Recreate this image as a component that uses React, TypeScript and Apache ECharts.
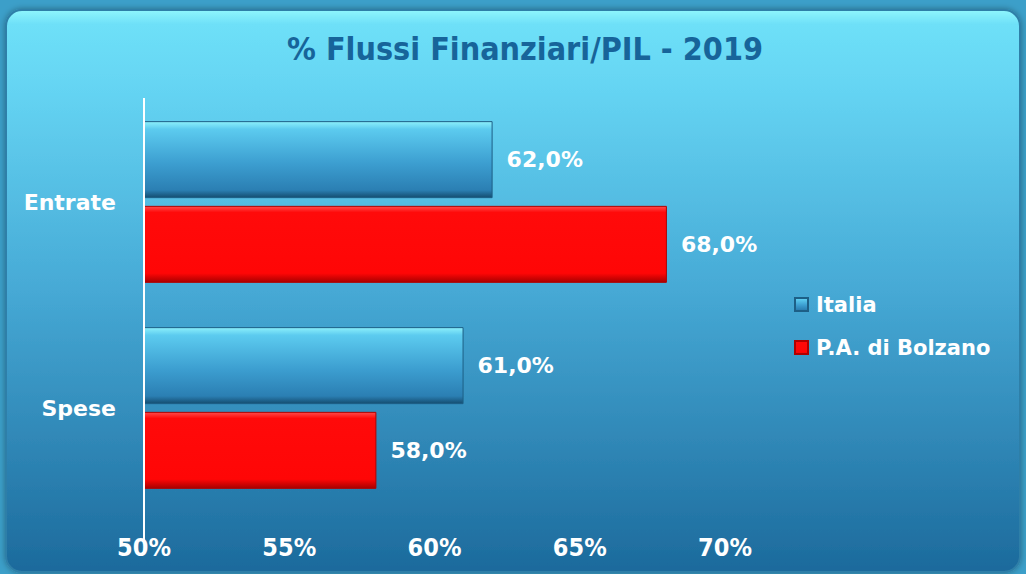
import React, { useEffect, useRef } from "react";
import * as echarts from "echarts";

const categories = ["Entrate", "Spese"];
const seriesNames = ["Italia", "P.A. di Bolzano"];
const italiaValues = [62.0, 61.0];
const bolzanoValues = [68.0, 58.0];
const titleText = "% Flussi Finanziari/PIL - 2019";
const axisMin = 50;
const axisMax = 70;
const axisInterval = 5;

const fmtPct = (v: number) => v.toFixed(1).replace(".", ",") + "%";
const wideFont = "'DejaVu Sans', 'Open Sans', sans-serif";
const narrowFont = "'DejaVu Sans Condensed', 'Liberation Sans Narrow', sans-serif";

export default function App() {
  const ref = useRef<HTMLDivElement>(null);
  useEffect(() => {
    if (!ref.current) return;
    const chart = echarts.init(ref.current, undefined, { renderer: "svg" });
    const labelStyle = {
      show: true,
      position: "right" as const,
      distance: 14,
      color: "#ffffff",
      fontSize: 22,
      fontWeight: "bold" as const,
      fontFamily: wideFont,
      formatter: (p: any) => fmtPct(p.value),
    };
    chart.setOption({
      animation: false,
      backgroundColor: "#3c9fc9",
      title: {
        text: titleText,
        left: 520,
        textAlign: "center",
        top: 28,
        textStyle: {
          color: "#17649a",
          fontSize: 32,
          fontWeight: "bold",
          fontFamily: narrowFont,
        },
      },
      graphic: [
        {
          type: "rect",
          z: -10,
          shape: { x: 6, y: 10, width: 1014, height: 562, r: 16 },
          style: {
            fill: new echarts.graphic.LinearGradient(0, 0, 0, 1, [
              { offset: 0, color: "#8ff6fd" },
              { offset: 0.025, color: "#6ee0f8" },
              { offset: 0.15, color: "#64d3f2" },
              { offset: 0.5, color: "#46a9d5" },
              { offset: 1, color: "#1c6a9c" },
            ]),
            stroke: "#2f7fa8",
            lineWidth: 2,
            shadowBlur: 6,
            shadowColor: "rgba(0,0,0,0.35)",
          },
        },
        {
          type: "line",
          z: 5,
          shape: { x1: 144, y1: 98, x2: 144, y2: 540 },
          style: { stroke: "#ffffff", lineWidth: 2 },
        },
      ],
      legend: {
        orient: "vertical",
        left: 789,
        top: 289,
        itemWidth: 13,
        itemHeight: 13,
        itemGap: 22,
        icon: "rect",
        textStyle: {
          color: "#ffffff",
          fontSize: 21,
          fontWeight: "bold",
          fontFamily: wideFont,
          padding: [0, 0, 0, 3],
        },
        data: seriesNames,
      },
      grid: { left: 144, right: 301, top: 99, bottom: 63, containLabel: false },
      xAxis: {
        type: "value",
        min: axisMin,
        max: axisMax,
        interval: axisInterval,
        splitLine: { show: false },
        axisLine: { show: false },
        axisTick: { show: false },
        axisLabel: {
          color: "#ffffff",
          fontSize: 25,
          fontWeight: "bold",
          margin: 24,
          fontFamily: narrowFont,
          formatter: (v: number) => v + "%",
        },
      },
      yAxis: {
        type: "category",
        data: categories,
        inverse: true,
        axisLine: { show: false },
        axisTick: { show: false },
        axisLabel: {
          color: "#ffffff",
          fontSize: 22,
          fontWeight: "bold",
          margin: 28,
          fontFamily: wideFont,
        },
      },
      series: [
        {
          name: seriesNames[0],
          type: "bar",
          data: italiaValues,
          barWidth: 77,
          barGap: "10%",
          itemStyle: {
            color: new echarts.graphic.LinearGradient(0, 0, 0, 1, [
              { offset: 0, color: "#8cf0fb" },
              { offset: 0.1, color: "#5ccbef" },
              { offset: 0.55, color: "#3c9ed0" },
              { offset: 0.9, color: "#2b7fb3" },
              { offset: 1, color: "#144d70" },
            ]),
            borderColor: "#1d5f86",
            borderWidth: 1,
          },
          label: labelStyle,
        },
        {
          name: seriesNames[1],
          type: "bar",
          data: bolzanoValues,
          barWidth: 77,
          barGap: "10%",
          itemStyle: {
            color: new echarts.graphic.LinearGradient(0, 0, 0, 1, [
              { offset: 0, color: "#ff4a4a" },
              { offset: 0.08, color: "#ff0a0a" },
              { offset: 0.88, color: "#ff0606" },
              { offset: 1, color: "#a80000" },
            ]),
            borderColor: "#b00000",
            borderWidth: 1,
          },
          label: labelStyle,
        },
      ],
    });
    return () => chart.dispose();
  }, []);
  return (
    <div
      ref={ref}
      style={{ position: "fixed", left: 0, top: 0, width: 1026, height: 574 }}
    />
  );
}
